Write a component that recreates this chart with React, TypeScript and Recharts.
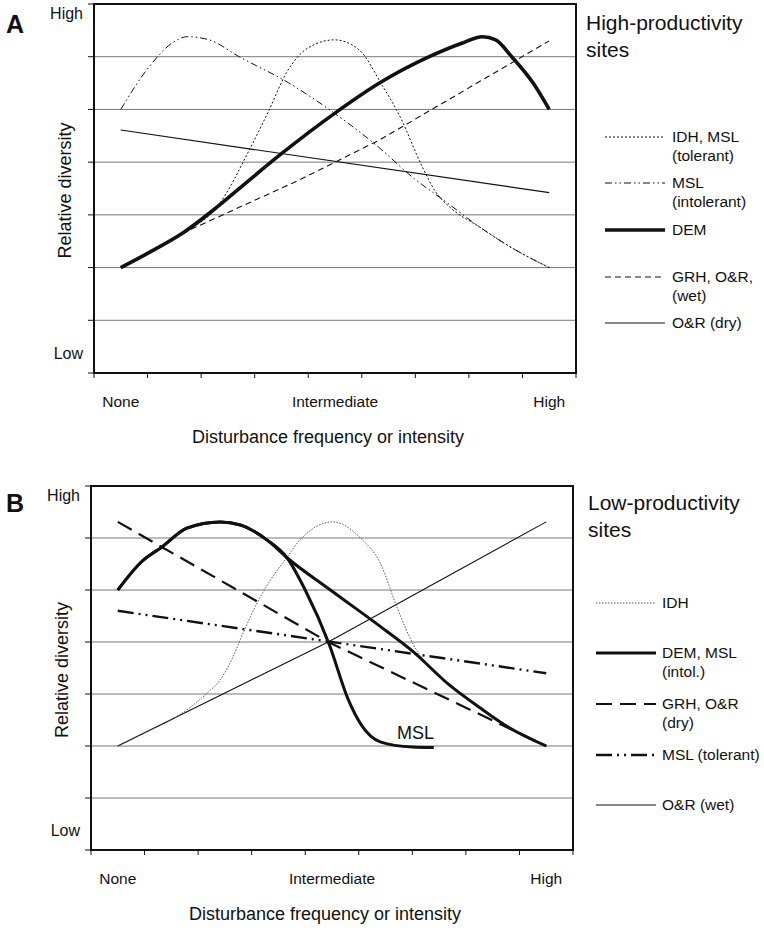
import React from "react";
import {
  LineChart,
  Line,
  XAxis,
  YAxis,
  CartesianGrid,
  ReferenceArea,
  ReferenceDot,
  Legend,
} from "recharts";

type Pt = { x: number; y: number };
const pts = (rows: number[][]): Pt[] => rows.map(([x, y]) => ({ x, y }));

// axis ticks and labels (x: disturbance, y: relative diversity)
const xTickMarks = [0, 1, 2, 3, 4, 5, 6, 7, 8, 9];
const xLabelPos = [0.5, 4.5, 8.5];
const xLabelText = ["None", "Intermediate", "High"];
const yTicks = [0, 1, 2, 3, 4, 5, 6, 7];
const yLabelPos = [7, 0];
const yLabelText = ["High", "Low"];

// panel A - high-productivity sites
const aOrDry = pts([[0.5, 4.61], [8.5, 3.42]]);
const aGrhWet = pts([[0.5, 2.0], [1.65, 2.65], [3.83, 3.66], [5.33, 4.42], [8.5, 6.3]]);
const aMslIntol = pts([
  [0.5, 5.0], [1.03, 5.81], [1.46, 6.26], [1.74, 6.38], [2.15, 6.32], [2.71, 6.0],
  [3.64, 5.5], [4.39, 5.0], [5.33, 4.27], [5.94, 3.72], [6.58, 3.24], [7.2, 2.77],
  [7.81, 2.37], [8.5, 2.0],
]);
const aIdhTol = pts([
  [0.5, 2.0], [1.0, 2.27], [1.65, 2.65], [2.3, 3.15], [2.9, 4.23], [3.27, 4.99],
  [3.59, 5.69], [4.0, 6.17], [4.49, 6.32], [4.95, 6.13], [5.38, 5.46], [5.72, 4.85],
  [6.13, 3.91], [6.39, 3.42], [6.64, 3.15], [7.2, 2.77], [7.81, 2.37], [8.5, 2.0],
]);
const aDem = pts([
  [0.5, 2.0], [1.0, 2.27], [1.65, 2.65], [2.3, 3.15], [2.9, 3.66], [3.5, 4.16],
  [4.5, 4.93], [5.33, 5.5], [6.26, 6.0], [6.88, 6.26], [7.25, 6.38], [7.5, 6.32],
  [7.8, 6.0], [8.2, 5.5], [8.5, 5.0],
]);

// panel B - low-productivity sites
const bOrWet = pts([[0.5, 2.0], [4.43, 4.0], [8.5, 6.31]]);
const bMslTol = pts([[0.5, 4.6], [8.5, 3.4]]);
const bGrhDry = pts([[0.5, 6.31], [4.43, 4.0], [8.5, 2.0]]);
const bIdh = pts([
  [0.5, 2.0], [1.1, 2.3], [1.61, 2.57], [2.17, 3.02], [2.41, 3.27], [2.65, 3.71],
  [2.84, 4.17], [3.1, 4.75], [3.35, 5.19], [3.66, 5.63], [3.9, 5.96], [4.52, 6.31],
  [5.03, 6.0], [5.4, 5.52], [5.72, 4.65], [6.02, 3.95], [6.34, 3.5], [6.65, 3.21],
  [7.27, 2.73], [7.78, 2.37], [8.5, 2.0],
]);
const bMslIntol = pts([
  [0.5, 5.0], [0.92, 5.52], [1.33, 5.83], [1.79, 6.19], [2.41, 6.31], [2.79, 6.25],
  [3.29, 5.96], [3.66, 5.62], [4.0, 5.0], [4.45, 3.95], [4.8, 2.9], [5.05, 2.4],
  [5.4, 2.08], [6.0, 1.98], [6.4, 1.97],
]);
const bDem = pts([
  [0.5, 5.0], [0.92, 5.52], [1.33, 5.83], [1.79, 6.19], [2.41, 6.31], [2.79, 6.25],
  [3.29, 5.96], [3.66, 5.62], [4.47, 5.0], [5.4, 4.3], [6.02, 3.81], [6.65, 3.21],
  [7.27, 2.73], [7.78, 2.37], [8.5, 2.0],
]);
const bMslNote = { x: 6.06, y: 2.25, text: "MSL" };

const FONT = "'Liberation Sans', Arial, Helvetica, sans-serif";
const INK = "#111";

type Series = {
  key: string;
  data: Pt[];
  width: number;
  dash?: string;
  color?: string;
  curve: "monotone" | "linear";
};
type LegendEntry = { key: string; lines: string[]; y: number };

type PanelCfg = {
  letter: string;
  title: string[];
  top: number;
  height: number;
  plotLeft: number;
  plotRight: number;
  plotTop: number;
  plotBottom: number;
  series: Series[];
  legend: LegendEntry[];
  legendBox: { left: number; top: number; lineX0: number; lineX1: number; textX: number };
  titleBase: number;
  titleX: number;
  note?: { x: number; y: number; text: string };
};

const panelA: PanelCfg = {
  letter: "A",
  title: ["High-productivity", "sites"],
  top: 0,
  height: 470,
  plotLeft: 94,
  plotRight: 576,
  plotTop: 4,
  plotBottom: 373,
  titleX: 586,
  titleBase: 30,
  series: [
    { key: "orDry", data: aOrDry, width: 1.2, curve: "linear" },
    { key: "grhWet", data: aGrhWet, width: 1.1, dash: "6 4", curve: "linear" },
    { key: "mslIntol", data: aMslIntol, width: 1, dash: "7 3 1.5 3 1.5 3", curve: "monotone" },
    { key: "idhTol", data: aIdhTol, width: 1, dash: "2 2", curve: "monotone" },
    { key: "dem", data: aDem, width: 3.6, curve: "monotone" },
  ],
  legend: [
    { key: "idhTol", lines: ["IDH, MSL", "(tolerant)"], y: 19 },
    { key: "mslIntol", lines: ["MSL", "(intolerant)"], y: 65 },
    { key: "dem", lines: ["DEM"], y: 112 },
    { key: "grhWet", lines: ["GRH, O&R,", "(wet)"], y: 159 },
    { key: "orDry", lines: ["O&R (dry)"], y: 205 },
  ],
  legendBox: { left: 600, top: 118, lineX0: 5, lineX1: 65, textX: 72 },
};

const panelB: PanelCfg = {
  letter: "B",
  title: ["Low-productivity", "sites"],
  top: 470,
  height: 458,
  plotLeft: 91,
  plotRight: 573,
  plotTop: 16,
  plotBottom: 380,
  titleX: 588,
  titleBase: 40,
  note: bMslNote,
  series: [
    { key: "orWet", data: bOrWet, width: 1.1, curve: "linear" },
    { key: "mslTol", data: bMslTol, width: 2.4, dash: "16 5 2 5 2 5", curve: "linear" },
    { key: "grhDry", data: bGrhDry, width: 2.2, dash: "16 8", curve: "linear" },
    { key: "idh", data: bIdh, width: 0.9, dash: "1.5 1.5", color: "#444", curve: "monotone" },
    { key: "mslIntol", data: bMslIntol, width: 3, curve: "monotone" },
    { key: "dem", data: bDem, width: 3, curve: "monotone" },
  ],
  legend: [
    { key: "idh", lines: ["IDH"], y: 15 },
    { key: "dem", lines: ["DEM, MSL", "(intol.)"], y: 65 },
    { key: "grhDry", lines: ["GRH, O&R", "(dry)"], y: 116 },
    { key: "mslTol", lines: ["MSL (tolerant)"], y: 167 },
    { key: "orWet", lines: ["O&R (wet)"], y: 217 },
  ],
  legendBox: { left: 590, top: 118, lineX0: 6, lineX1: 66, textX: 72 },
};

function XTick(props: any) {
  const { x, y, payload } = props;
  const i = xLabelPos.indexOf(payload.value);
  if (i >= 0) {
    return (
      <text x={x} y={y + 29} dy="0.35em" textAnchor="middle" fontSize={15.5} fontFamily={FONT} fill={INK}>
        {xLabelText[i]}
      </text>
    );
  }
  return <line x1={x} x2={x} y1={y} y2={y + 5} stroke={INK} strokeWidth={1} />;
}

function YTick(props: any) {
  const { x, y, payload } = props;
  const i = yLabelPos.indexOf(payload.value);
  return (
    <g>
      <line x1={x - 6} x2={x} y1={y} y2={y} stroke={INK} strokeWidth={1} />
      {i >= 0 && (
        <text
          x={x - 11}
          y={y + (i === 0 ? 9 : -20)}
          dy="0.35em"
          textAnchor="end"
          fontSize={16}
          fontFamily={FONT}
          fill={INK}
        >
          {yLabelText[i]}
        </text>
      )}
    </g>
  );
}

function LegendBox({ p }: { p: PanelCfg }) {
  const b = p.legendBox;
  return (
    <svg width={174} height={240} style={{ display: "block", overflow: "visible" }}>
      {p.legend.map((e) => {
        const s = p.series.find((q) => q.key === e.key)!;
        return (
          <g key={e.key}>
            <line
              x1={b.lineX0}
              x2={b.lineX1}
              y1={e.y}
              y2={e.y}
              stroke={s.color ?? INK}
              strokeWidth={s.width}
              strokeDasharray={s.dash}
            />
            {e.lines.map((t, k) => (
              <text key={k} x={b.textX} y={e.y + k * 19} dy="0.35em" fontSize={15.5} fontFamily={FONT} fill={INK}>
                {t}
              </text>
            ))}
          </g>
        );
      })}
    </svg>
  );
}

function Panel({ p }: { p: PanelCfg }) {
  const xAxisH = 60;
  const midX = (p.plotLeft + p.plotRight) / 2;
  const midY = (p.plotTop + p.plotBottom) / 2;
  return (
    <div style={{ position: "absolute", left: 0, top: p.top, width: 764, height: p.height }}>
      <LineChart
        width={764}
        height={p.height}
        margin={{ top: p.plotTop, right: 764 - p.plotRight, bottom: p.height - p.plotBottom - xAxisH, left: 0 }}
      >
        <CartesianGrid vertical={false} stroke="#777" strokeWidth={1} />
        <XAxis
          type="number"
          dataKey="x"
          domain={[0, 9]}
          allowDataOverflow
          ticks={[...xTickMarks, ...xLabelPos].sort((a, b) => a - b)}
          interval={0}
          height={xAxisH}
          axisLine={false}
          tickLine={false}
          tickSize={0}
          tickMargin={0}
          tick={<XTick />}
          label={() => (
            <text x={midX - 7} y={p.plotBottom + 64} dy="0.35em" textAnchor="middle" fontSize={18} fontFamily={FONT} fill={INK}>
              Disturbance frequency or intensity
            </text>
          )}
        />
        <YAxis
          type="number"
          domain={[0, 7]}
          allowDataOverflow
          ticks={yTicks}
          interval={0}
          width={p.plotLeft}
          axisLine={false}
          tickLine={false}
          tickSize={0}
          tickMargin={0}
          tick={<YTick />}
          label={() => (
            <text
              x={p.plotLeft - 29}
              y={midY + 2}
              dy="0.35em"
              textAnchor="middle"
              fontSize={18}
              fontFamily={FONT}
              fill={INK}
              transform={`rotate(-90 ${p.plotLeft - 29} ${midY + 2})`}
            >
              Relative diversity
            </text>
          )}
        />
        <ReferenceArea x1={0} x2={9} y1={0} y2={7} fill="none" fillOpacity={0} stroke={INK} strokeWidth={2} ifOverflow="visible" />
        {p.series.map((s) => (
          <Line
            key={s.key}
            name={s.key}
            data={s.data}
            dataKey="y"
            type={s.curve}
            stroke={s.color ?? INK}
            strokeWidth={s.width}
            strokeDasharray={s.dash}
            strokeLinejoin="round"
            dot={false}
            activeDot={false}
            legendType="none"
            isAnimationActive={false}
          />
        ))}
        {p.note && (
          <ReferenceDot
            x={p.note.x}
            y={p.note.y}
            r={0}
            fill="none"
            stroke="none"
            label={{ value: p.note.text, position: "center", fontSize: 18, fontFamily: FONT, fill: INK }}
          />
        )}
        <Legend
          layout="vertical"
          align="center"
          verticalAlign="middle"
          wrapperStyle={{ left: p.legendBox.left, top: p.legendBox.top, width: 174, height: 240 }}
          content={() => <LegendBox p={p} />}
        />
      </LineChart>
      <svg
        width={764}
        height={p.height}
        style={{ position: "absolute", left: 0, top: 0, pointerEvents: "none" }}
      >
        <text x={6} y={p.letter === "A" ? 33 : 42} fontSize={25} fontWeight="bold" fontFamily={FONT} fill={INK}>
          {p.letter}
        </text>
        {p.title.map((t, k) => (
          <text key={k} x={p.titleX} y={p.titleBase + k * 27} fontSize={21} fontFamily={FONT} fill={INK}>
            {t}
          </text>
        ))}
      </svg>
    </div>
  );
}

export default function App() {
  return (
    <div
      style={{
        position: "absolute",
        left: 0,
        top: 0,
        width: 764,
        height: 928,
        background: "#fff",
        fontFamily: FONT,
      }}
    >
      <Panel p={panelA} />
      <Panel p={panelB} />
    </div>
  );
}
